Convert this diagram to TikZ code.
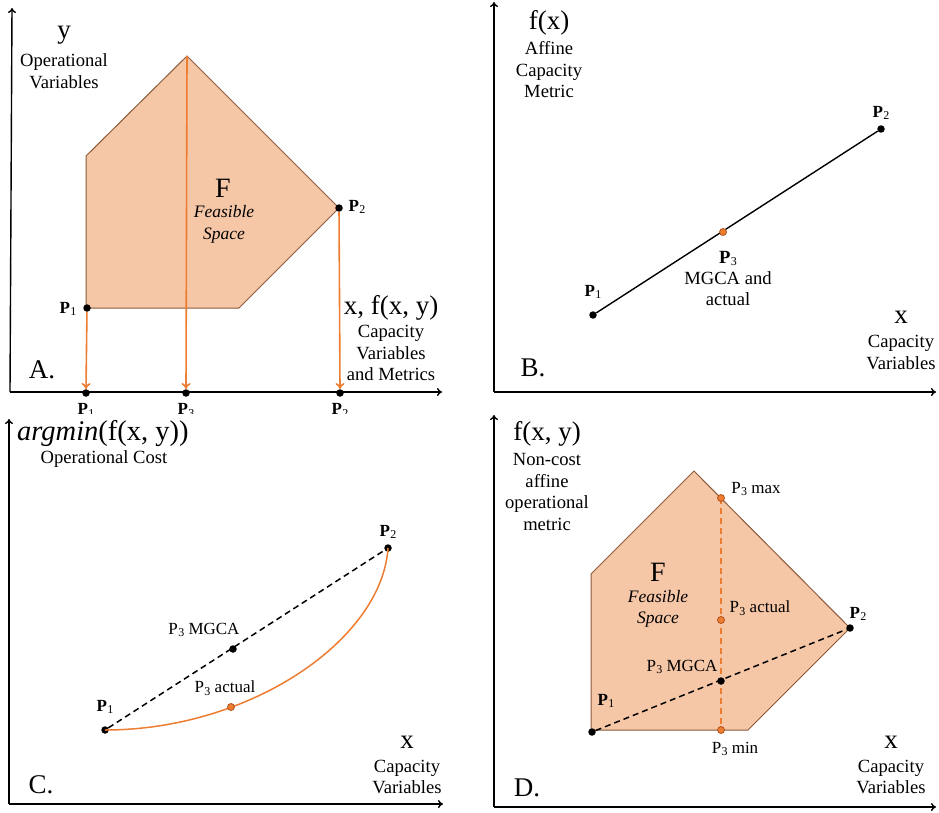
\documentclass[tikz,border=0pt]{standalone}
\usepackage{fontspec}
\setmainfont{Liberation Serif}
\usetikzlibrary{arrows.meta}
\definecolor{peach}{HTML}{F6C7A7}
\definecolor{edgebr}{HTML}{8A5A3A}
\definecolor{orng}{HTML}{ED7D31}
\definecolor{orngd}{HTML}{B0521A}
\newcommand{\Pl}[1]{\textbf{P}\kern0.3pt\raisebox{-0.35ex}{\fontsize{12}{12}\selectfont #1}}
\newcommand{\PlabR}[1]{P\kern0.3pt\raisebox{-0.35ex}{\fontsize{12}{12}\selectfont #1}}
\begin{document}
\begin{tikzpicture}[x=1pt,y=-1pt,
  axis/.style={line width=1.4pt,-{To[length=5pt,width=8pt]}},
  oarrow/.style={orng,line width=1.6pt,-{To[length=6pt,width=9pt]}},
  region/.style={fill=peach,draw=edgebr,line width=1pt,line join=miter},
  bdash/.style={black,line width=1.5pt,dash pattern=on 6pt off 4pt},
  odash/.style={orng,line width=1.5pt,dash pattern=on 6pt off 4pt},
  dotb/.style={circle,fill=black,inner sep=0pt,minimum size=7.5pt},
  doto/.style={circle,fill=orng,draw=orngd,line width=0.8pt,inner sep=0pt,minimum size=7pt},
  txt/.style={inner sep=0pt,align=center,font=\fontsize{18.6}{21.5}\selectfont},
  big/.style={inner sep=0pt,font=\fontsize{27}{30}\selectfont},
  plab/.style={inner sep=0pt,font=\fontsize{17}{19}\selectfont},
  itx/.style={inner sep=0pt,align=center,font=\fontsize{17.5}{21.5}\selectfont\itshape}
]
\useasboundingbox (0,0) rectangle (939,813);

% ---------------- Panel A ----------------
\coordinate (Ao) at (10,392);
\coordinate (Ay) at (12,8);
\coordinate (Ax) at (442,392);
\draw[axis] (Ao) -- (Ay);
\draw[axis] (Ao) -- (Ax);
\coordinate (A1) at (86,156);
\coordinate (A2) at (187,56);
\coordinate (A3) at (339,208);
\coordinate (A4) at (239,308);
\coordinate (A5) at (86,308);
\filldraw[region] (A1) -- (A2) -- (A3) -- (A4) -- (A5) -- cycle;
\node[dotb] (pa1) at (87,308) {};
\node[dotb] (pa2) at (339,208) {};
\node[dotb] (qa1) at (86,393) {};
\node[dotb] (qa3) at (186,393) {};
\node[dotb] (qa2) at (340,393) {};
\draw[oarrow] (pa1) -- (qa1.north);
\draw[oarrow] (A2) -- (qa3.north);
\draw[oarrow] (pa2) -- (qa2.north);
\node[big] (ya) at (64,35) {y};
\node[txt] (yla) at (64,71) {Operational\\Variables};
\node[inner sep=0pt,font=\fontsize{28}{30}\selectfont] (Fa) at (223,188) {F};
\node[itx] (fsa) at (224,224.5) {Feasible\\Space};
\node[plab] (la1) at (68,309) {\Pl{1}};
\node[plab] (la2) at (357,207) {\Pl{2}};
\node[big] (xa) at (391,308) {x, f(x, y)};
\node[txt] (xla) at (391,353) {Capacity\\Variables\\and Metrics};
\node[big] (Aa) at (42,370) {A.};
\begin{scope}
\clip (0,396) rectangle (470,413);
\node[plab,anchor=north] (ba1) at (86,403) {\Pl{1}};
\node[plab,anchor=north] (ba3) at (186,403) {\Pl{3}};
\node[plab,anchor=north] (ba2) at (340,403) {\Pl{2}};
\end{scope}

% ---------------- Panel B ----------------
\coordinate (Bo) at (494,392);
\coordinate (By) at (494,2);
\coordinate (Bx) at (936,392);
\draw[axis] (Bo) -- (By);
\draw[axis] (Bo) -- (Bx);
\node[dotb] (pb1) at (593,315) {};
\node[dotb] (pb2) at (881,129) {};
\draw[line width=1.4pt] (pb1) -- (pb2);
\node[doto] (pb3) at (723,232) {};
\node[big] (fb) at (549,23) {f(x)};
\node[txt] (flb) at (549,70) {Affine\\Capacity\\Metric};
\node[plab] (lb2) at (881,113) {\Pl{2}};
\node[plab] (lb1) at (593,292) {\Pl{1}};
\node[txt] (lb3) at (728,278.5) {\Pl{3}\\MGCA and\\actual};
\node[big] (xb) at (901,317) {x};
\node[txt] (xlb) at (901,352.5) {Capacity\\Variables};
\node[big] (Bb) at (533,368) {B.};

% ---------------- Panel C ----------------
\coordinate (Co) at (9,804);
\coordinate (Cy) at (9,419);
\coordinate (Cx) at (443,804);
\draw[axis] (Co) -- (Cy);
\draw[axis] (Co) -- (Cx);
\node[dotb] (pc1) at (105,730) {};
\node[dotb] (pc2) at (388,548) {};
\draw[bdash] (pc1) -- (pc2);
\node[dotb] (pc3m) at (233,649) {};
\draw[orng,line width=1.5pt] (pc1.center) .. controls (250,730) and (382,640) .. (pc2.center);
\node[doto] (pc3a) at (231,707) {};
\node[inner sep=0pt,anchor=west,font=\fontsize{28.5}{30}\selectfont] (fc) at (17,434) {\textit{argmin}(f(x, y))};
\node[txt] (flc) at (104,459) {Operational Cost};
\node[plab] (lc2) at (388,532) {\Pl{2}};
\node[plab] (lc3m) at (204,630) {\PlabR{3} MGCA};
\node[plab] (lc3a) at (225,688) {\PlabR{3} actual};
\node[plab] (lc1) at (105,707) {\Pl{1}};
\node[big] (xc) at (407,742) {x};
\node[txt] (xlc) at (407,777) {Capacity\\Variables};
\node[big] (Cc) at (41,785) {C.};

% ---------------- Panel D ----------------
\coordinate (Do) at (494,807);
\coordinate (Dy) at (494,415);
\coordinate (Dx) at (936,807);
\draw[axis] (Do) -- (Dy);
\draw[axis] (Do) -- (Dx);
\coordinate (D1) at (591,574);
\coordinate (D2) at (694,471);
\coordinate (D3) at (850,628);
\coordinate (D4) at (748,730);
\coordinate (D5) at (591,730);
\filldraw[region] (D1) -- (D2) -- (D3) -- (D4) -- (D5) -- cycle;
\node[dotb] (pd1) at (592,732) {};
\node[dotb] (pd2) at (850,628) {};
\draw[bdash] (pd1) -- (pd2);
\coordinate (dmax) at (721,498);
\coordinate (dmin) at (721,730);
\draw[odash] (dmax) -- (dmin);
\node[doto] (pd3x) at (dmax) {};
\node[doto] (pd3n) at (dmin) {};
\node[doto] (pd3a) at (721,620) {};
\node[dotb] (pd3m) at (721,681) {};
\node[big] (fd) at (547,434) {f(x, y)};
\node[txt] (fld) at (547,492) {Non-cost\\affine\\operational\\metric};
\node[plab] (ld3x) at (756,489) {\PlabR{3} max};
\node[inner sep=0pt,font=\fontsize{28}{30}\selectfont] (Fd) at (658,572) {F};
\node[itx] (fsd) at (658,609) {Feasible\\Space};
\node[plab] (ld3a) at (760,608) {\PlabR{3} actual};
\node[plab] (ld2) at (858,614) {\Pl{2}};
\node[plab] (ld3m) at (682,667) {\PlabR{3} MGCA};
\node[plab] (ld1) at (606,701) {\Pl{1}};
\node[plab] (ld3n) at (735,749) {\PlabR{3} min};
\node[big] (xd) at (891,742) {x};
\node[txt] (xld) at (891,777) {Capacity\\Variables};
\node[big] (Dd) at (527,788) {D.};
\end{tikzpicture}
\end{document}
